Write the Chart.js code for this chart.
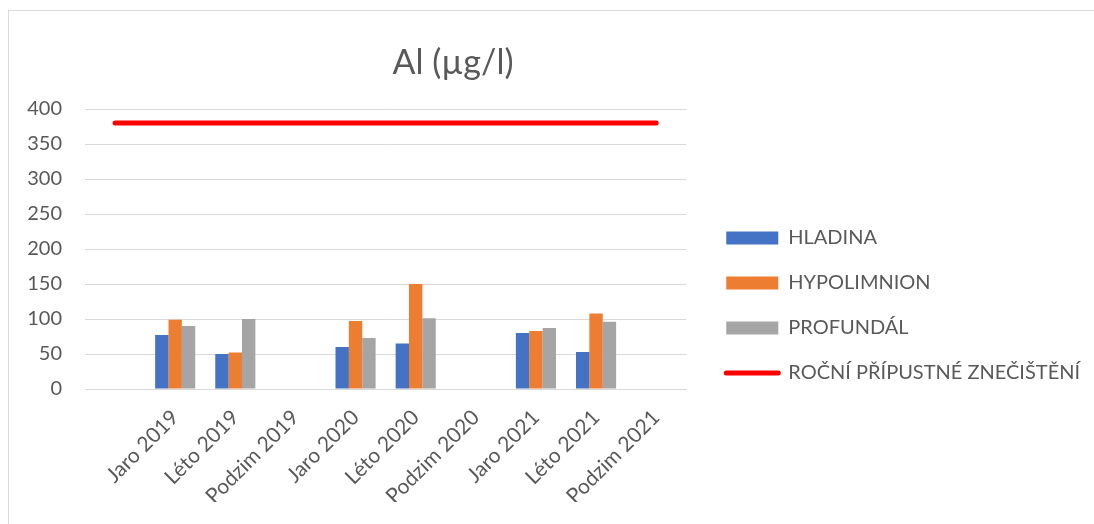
<!DOCTYPE html>
<html lang="cs">
<head>
    <meta charset="UTF-8">
    <title>Al (µg/l)</title>
    <script src="https://cdn.jsdelivr.net/npm/chart.js"></script>
    <style>
        html, body {
            margin: 0;
            padding: 0;
            background: #fff;
            overflow: hidden;
        }
        .frame {
            position: absolute;
            left: 8px;
            top: 10px;
            width: 1120px;
            height: 560px;
            border: 1px solid #d9d9d9;
        }
        .chart {
            position: absolute;
            left: 0;
            top: 0;
            width: 1085px;
            height: 513px;
        }
    </style>
</head>
<body>
    <div class="frame">
        <div class="chart">
            <canvas id="alChart"></canvas>
        </div>
    </div>
    <script>
        const TITLE = 'Al (µg/l)';
        const categories = ['', 'Jaro 2019', 'Léto 2019', 'Podzim 2019', 'Jaro 2020', 'Léto 2020',
            'Podzim 2020', 'Jaro 2021', 'Léto 2021', 'Podzim 2021'];
        const hladina = [null, 77, 50, null, 60, 65, null, 80, 53, null];
        const hypolimnion = [null, 99, 52, null, 97, 150, null, 83, 108, null];
        const profundal = [null, 90, 100, null, 73, 101, null, 87, 96, null];
        const limit = [380, 380, 380, 380, 380, 380, 380, 380, 380, 380];
        const yTicks = [0, 50, 100, 150, 200, 250, 300, 350, 400];

        const TEXT = '#595959';
        const GRID = '#d9d9d9';
        const FONT = 'Lato, "Open Sans", sans-serif';

        // title sits off-centre like in the Excel original
        const titlePlugin = {
            id: 'offTitle',
            afterDraw(chart) {
                const ctx = chart.ctx;
                ctx.save();
                ctx.font = '34px ' + FONT;
                ctx.fillStyle = TEXT;
                ctx.textAlign = 'center';
                ctx.textBaseline = 'alphabetic';
                ctx.fillText(TITLE, 444, 63);
                ctx.restore();
            }
        };

        // push the legend a bit further from the plot and let it use the free space on the right
        const legendShift = {
            id: 'legendShift',
            afterLayout(chart) {
                const lg = chart.legend;
                lg.left += 15;
                lg.right = chart.width;
                lg.width = lg.right - lg.left;
            }
        };

        const ctx = document.getElementById('alChart').getContext('2d');
        new Chart(ctx, {
            data: {
                labels: categories,
                datasets: [
                    { type: 'bar', label: 'HLADINA', data: hladina, backgroundColor: '#4472C4' },
                    { type: 'bar', label: 'HYPOLIMNION', data: hypolimnion, backgroundColor: '#ED7D31' },
                    { type: 'bar', label: 'PROFUNDÁL', data: profundal, backgroundColor: '#A5A5A5' },
                    {
                        type: 'line', label: 'ROČNÍ PŘÍPUSTNÉ ZNEČIŠTĚNÍ', data: limit,
                        borderColor: '#FF0000', backgroundColor: '#FF0000',
                        borderWidth: 5, borderCapStyle: 'round', pointRadius: 0
                    }
                ]
            },
            options: {
                responsive: true,
                maintainAspectRatio: false,
                animation: false,
                datasets: {
                    bar: { categoryPercentage: 0.667, barPercentage: 1.0 }
                },
                layout: {
                    padding: { top: 98, bottom: 22, left: 0, right: 182 }
                },
                plugins: {
                    title: { display: false },
                    tooltip: { enabled: false },
                    legend: {
                        position: 'right',
                        align: 'center',
                        labels: {
                            color: TEXT,
                            font: { family: FONT, size: 20 },
                            usePointStyle: true,
                            pointStyleWidth: 52,
                            boxHeight: 13,
                            padding: 25,
                            generateLabels(chart) {
                                return chart.data.datasets.map((ds, i) => {
                                    const isLine = ds.type === 'line';
                                    return {
                                        text: ds.label,
                                        fillStyle: ds.backgroundColor,
                                        strokeStyle: ds.borderColor || ds.backgroundColor,
                                        lineWidth: isLine ? 5 : 0,
                                        lineCap: 'round',
                                        pointStyle: isLine ? 'line' : 'rect',
                                        fontColor: TEXT,
                                        hidden: false,
                                        datasetIndex: i
                                    };
                                });
                            }
                        }
                    }
                },
                scales: {
                    x: {
                        grid: { display: false },
                        border: { display: true, color: GRID, width: 1 },
                        ticks: {
                            color: TEXT,
                            font: { family: FONT, size: 21 },
                            maxRotation: 45,
                            minRotation: 45,
                            autoSkip: false,
                            padding: 8
                        },
                        afterFit(scale) { scale.height = 113; }
                    },
                    y: {
                        min: 0,
                        max: 400,
                        afterBuildTicks(scale) { scale.ticks = yTicks.map(v => ({ value: v })); },
                        grid: { color: GRID, lineWidth: 1, drawTicks: false },
                        border: { display: false },
                        ticks: {
                            color: TEXT,
                            font: { family: FONT, size: 20 },
                            padding: 23
                        },
                        afterFit(scale) { scale.width = 76; }
                    }
                }
            },
            plugins: [titlePlugin, legendShift]
        });
    </script>
</body>
</html>
